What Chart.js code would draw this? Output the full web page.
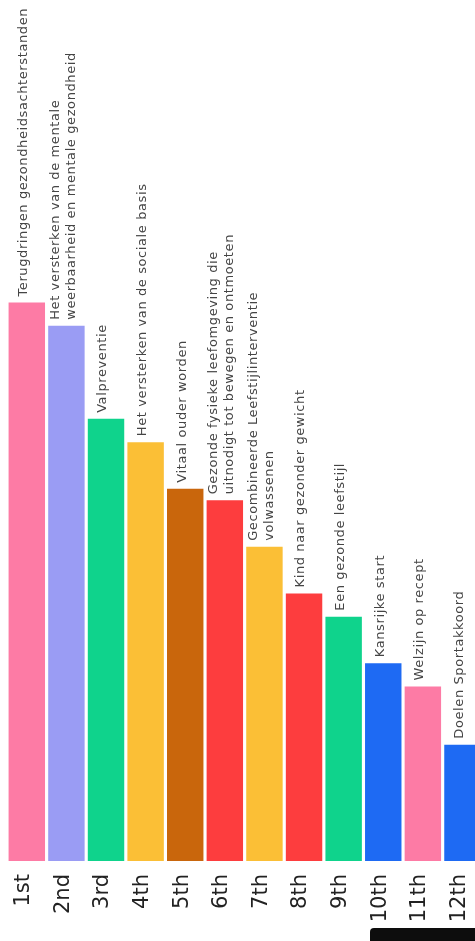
<!DOCTYPE html>
<html>
<head>
<meta charset="utf-8">
<script src="https://cdn.jsdelivr.net/npm/chart.js@4"></script>
<style>
  html, body { margin: 0; padding: 0; background: #ffffff; overflow: hidden; }
  #wrap { position: relative; width: 501px; height: 941px; }
  #blk { position: absolute; left: 370px; top: 928px; width: 110px; height: 13px; background: #0d0d0d; border-top-left-radius: 4px; }
</style>
</head>
<body>
<div id="wrap"><canvas id="c" width="501" height="941"></canvas></div>
<div id="blk"></div>
<script>
const ranks = ["1st","2nd","3rd","4th","5th","6th","7th","8th","9th","10th","11th","12th"];
const themes = [
  ["Terugdringen gezondheidsachterstanden"],
  ["Het versterken van de mentale", "weerbaarheid en mentale gezondheid"],
  ["Valpreventie"],
  ["Het versterken van de sociale basis"],
  ["Vitaal ouder worden"],
  ["Gezonde fysieke leefomgeving die", "uitnodigt tot bewegen en ontmoeten"],
  ["Gecombineerde Leefstijlinterventie", "volwassenen"],
  ["Kind naar gezonder gewicht"],
  ["Een gezonde leefstijl"],
  ["Kansrijke start"],
  ["Welzijn op recept"],
  ["Doelen Sportakkoord"]
];
const scores = [48, 46, 38, 36, 32, 31, 27, 23, 21, 17, 15, 10];
const barColors = ["#fd7ba5","#9a9cf4","#0fd38c","#fbbf36","#c9660c","#fd3d3e","#fbbf36","#fd3d3e","#0fd38c","#1e6af3","#fd7ba5","#1e6af3"];

const labelPlugin = {
  id: 'barLabels',
  afterDatasetsDraw(chart) {
    const ctx = chart.ctx;
    const meta = chart.getDatasetMeta(0);
    ctx.save();
    ctx.font = '13px "DejaVu Sans"';
    if ('letterSpacing' in ctx) ctx.letterSpacing = '0.6px';
    ctx.fillStyle = '#454545';
    ctx.textAlign = 'left';
    ctx.textBaseline = 'middle';
    meta.data.forEach((bar, i) => {
      const lines = themes[i];
      const n = lines.length;
      lines.forEach((line, j) => {
        const x = bar.x - 3 + (j - (n - 1) / 2) * 16;
        ctx.save();
        ctx.translate(x, bar.y - 6);
        ctx.rotate(-Math.PI / 2);
        ctx.fillText(line, 0, 0);
        ctx.restore();
      });
    });
    ctx.restore();
  }
};

new Chart(document.getElementById('c'), {
  type: 'bar',
  data: {
    labels: ranks,
    datasets: [{
      data: scores,
      backgroundColor: barColors,
      borderWidth: 0,
      barPercentage: 0.92,
      categoryPercentage: 1.0
    }]
  },
  options: {
    responsive: false,
    animation: false,
    devicePixelRatio: 1,
    layout: { padding: { left: 7, right: 8, top: 0, bottom: 0 } },
    plugins: { legend: { display: false }, tooltip: { enabled: false } },
    scales: {
      x: {
        grid: { display: false, drawTicks: false },
        border: { display: false },
        ticks: {
          color: '#222222',
          font: { family: '"DejaVu Sans"', size: 21 },
          minRotation: 90,
          maxRotation: 90,
          padding: 13,
          labelOffset: -3,
          autoSkip: false
        },
        afterFit(scale) { scale.height = 80; }
      },
      y: {
        display: false,
        min: 0,
        max: 74
      }
    }
  },
  plugins: [labelPlugin]
});
</script>
</body>
</html>
